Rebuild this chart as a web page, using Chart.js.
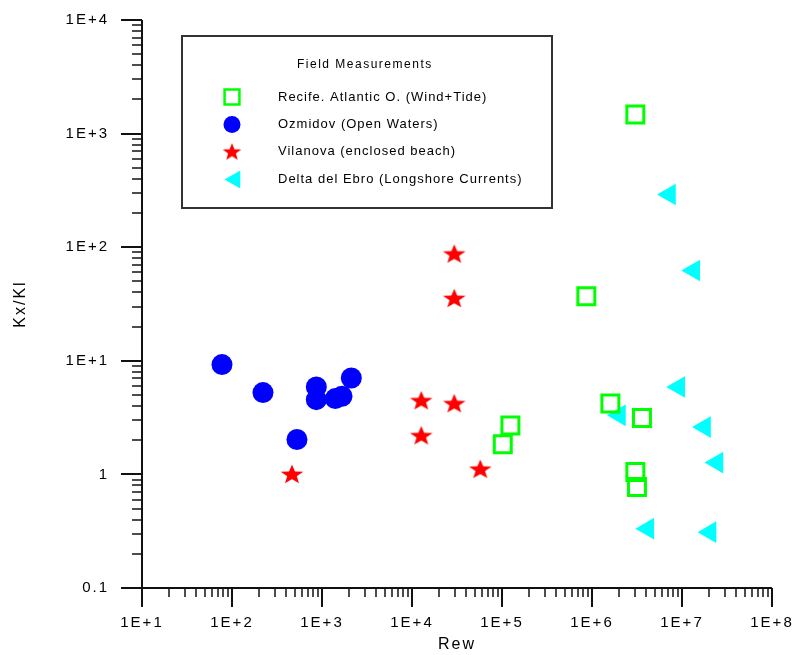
<!DOCTYPE html>
<html>
<head>
<meta charset="utf-8">
<title>Kx/Kl vs Rew - Field Measurements</title>
<script src="https://cdn.jsdelivr.net/npm/chart.js@4.4.0/dist/chart.umd.min.js"></script>
<style>
  html, body { margin: 0; padding: 0; background: #fff; }
  #wrap { width: 794px; height: 655px; }
</style>
</head>
<body>
<div id="wrap"><canvas id="chart" width="794" height="655"></canvas></div>
<script>
/* ---------- DATA ---------- */
const legendTitle = 'Field Measurements';
const seriesNames = [
  'Recife. Atlantic O. (Wind+Tide)',
  'Ozmidov (Open Waters)',
  'Vilanova (enclosed beach)',
  'Delta del Ebro (Longshore Currents)'
];

const recifeX = [3.03e6, 8.65e5, 1.6e6, 3.59e6, 3.03e6, 3.16e6, 1.24e5, 1.02e5];
const recifeY = [1475, 37.0, 4.2, 3.13, 1.05, 0.773, 2.7, 1.84];

const ozmidovX = [77.4, 221, 865, 865, 1406, 1668, 2118, 527];
const ozmidovY = [9.26, 5.25, 5.88, 4.55, 4.65, 4.87, 7.05, 2.03];

const vilanovaX = [464, 12680, 29500, 12680, 57400, 29500, 29500];
const vilanovaY = [1.01, 4.49, 4.23, 2.21, 1.12, 87.9, 35.7];

const ebroX = [7.26e6, 1.35e7, 9.2e6, 2.02e6, 1.78e7, 2.45e7, 4.17e6, 2.05e7];
const ebroY = [291, 62.3, 5.88, 3.31, 2.61, 1.27, 0.333, 0.310];

const xTickValues = [1e1, 1e2, 1e3, 1e4, 1e5, 1e6, 1e7, 1e8];
const xTickLabels = ['1E+1', '1E+2', '1E+3', '1E+4', '1E+5', '1E+6', '1E+7', '1E+8'];
const yTickValues = [0.1, 1, 10, 100, 1000, 10000];
const yTickLabels = ['0.1', '1', '1E+1', '1E+2', '1E+3', '1E+4'];

/* ---------- HELPERS ---------- */
const FONT = "'Liberation Sans', Arial, sans-serif";

function toPoints(xs, ys) {
  return xs.map((x, i) => ({ x: x, y: ys[i] }));
}

// filled five point star, a little wider than tall like the original
function makeStar(w, h, R, sx, color) {
  const c = document.createElement('canvas');
  c.width = w; c.height = h;
  const g = c.getContext('2d');
  const r = R * 0.42;
  g.translate(w / 2, h / 2 + R * 0.095);
  g.scale(sx, 1);
  g.beginPath();
  for (let i = 0; i < 10; i++) {
    const a = -Math.PI / 2 + i * Math.PI / 5;
    const rr = i % 2 ? r : R;
    g.lineTo(Math.cos(a) * rr, Math.sin(a) * rr);
  }
  g.closePath();
  g.fillStyle = color;
  g.fill();
  return c;
}

const starBig = makeStar(26, 22, 10.1, 1.18, '#ff0000');
const starSmall = makeStar(22, 20, 9.0, 1.08, '#ff0000');

const styles = [
  { color: '#00ff00', fill: 'rgba(0,0,0,0)', pointStyle: 'rect', radius: 12, border: 3, rotation: 0,
    legend: { pointStyle: 'rect', radius: 10.5, border: 2.5, rotation: 0 } },
  { color: '#0000ff', fill: '#0000ff', pointStyle: 'circle', radius: 10.5, border: 0, rotation: 0,
    legend: { pointStyle: 'circle', radius: 8.5, border: 0, rotation: 0 } },
  { color: '#ff0000', fill: '#ff0000', pointStyle: starBig, radius: 11, border: 0, rotation: 0,
    legend: { pointStyle: starSmall, radius: 9, border: 0, rotation: 0 } },
  { color: '#00ffff', fill: '#00ffff', pointStyle: 'triangle', radius: 12.5, border: 0, rotation: -90,
    legend: { pointStyle: 'triangle', radius: 10.5, border: 0, rotation: -90 } }
];

const seriesData = [
  toPoints(recifeX, recifeY),
  toPoints(ozmidovX, ozmidovY),
  toPoints(vilanovaX, vilanovaY),
  toPoints(ebroX, ebroY)
];

/* ---------- AXES PLUGIN (lines + major/minor ticks) ---------- */
const axesPlugin = {
  id: 'logAxes',
  beforeDraw(chart) {
    chart.ctx.letterSpacing = '2px';
  },
  afterDraw(chart) {
    const ctx = chart.ctx;
    const xs = chart.scales.x;
    const ys = chart.scales.y;
    const left = xs.left, bottom = ys.bottom;
    ctx.save();
    ctx.strokeStyle = '#111';

    ctx.lineWidth = 2;
    ctx.beginPath();
    ctx.moveTo(left, ys.top);
    ctx.lineTo(left, bottom);
    ctx.moveTo(left, bottom);
    ctx.lineTo(xs.right, bottom);
    ctx.stroke();

    // x ticks, pointing down
    const xmin = Math.log10(xs.min), xmax = Math.log10(xs.max);
    for (let d = xmin; d <= xmax; d++) {
      for (let k = 1; k <= 9; k++) {
        const v = k * Math.pow(10, d);
        if (v > xs.max * 1.0001) break;
        const px = Math.round(xs.getPixelForValue(v));
        ctx.lineWidth = k === 1 ? 2 : 1.5;
        ctx.beginPath();
        ctx.moveTo(px, bottom);
        ctx.lineTo(px, bottom + (k === 1 ? 19 : 9));
        ctx.stroke();
      }
    }
    // y ticks, pointing left
    const ymin = Math.round(Math.log10(ys.min)), ymax = Math.round(Math.log10(ys.max));
    for (let d = ymin; d <= ymax; d++) {
      for (let k = 1; k <= 9; k++) {
        const v = k * Math.pow(10, d);
        if (v > ys.max * 1.0001) break;
        const py = Math.round(ys.getPixelForValue(v));
        ctx.lineWidth = k === 1 ? 2 : 1.5;
        ctx.beginPath();
        ctx.moveTo(left, py);
        ctx.lineTo(left - (k === 1 ? 21 : 10), py);
        ctx.stroke();
      }
    }
    ctx.restore();
  }
};

/* ---------- LEGEND BOX PLUGIN ---------- */
const legendBoxPlugin = {
  id: 'legendBox',
  afterDraw(chart) {
    const ctx = chart.ctx;
    const box = { x: 182, y: 36, w: 370, h: 172 };
    ctx.save();
    ctx.strokeStyle = '#333';
    ctx.lineWidth = 2;
    ctx.strokeRect(box.x, box.y, box.w, box.h);

    ctx.fillStyle = '#000';
    ctx.textBaseline = 'middle';
    ctx.textAlign = 'left';
    ctx.font = '12px ' + FONT;
    ctx.letterSpacing = '1.5px';
    ctx.fillText(legendTitle, 297, 65);

    ctx.font = '13px ' + FONT;
    ctx.letterSpacing = '1px';
    const rowY = [97, 124.5, 151.5, 179.5];
    chart.data.datasets.forEach((ds, i) => {
      const st = styles[i];
      const mx = i === 3 ? 235 : 232;
      ctx.save();
      ctx.fillStyle = st.fill;
      ctx.strokeStyle = st.color;
      ctx.lineWidth = st.legend.border;
      Chart.helpers.drawPoint(ctx, {
        pointStyle: st.legend.pointStyle,
        radius: st.legend.radius,
        rotation: st.legend.rotation,
        borderWidth: st.legend.border
      }, mx, rowY[i]);
      ctx.restore();
      ctx.fillStyle = '#000';
      ctx.fillText(ds.label, 278, rowY[i]);
    });
    ctx.restore();
  }
};

/* ---------- CHART ---------- */
const datasets = seriesNames.map((name, i) => ({
  label: name,
  data: seriesData[i],
  backgroundColor: styles[i].fill,
  borderColor: styles[i].color,
  borderWidth: styles[i].border,
  pointStyle: styles[i].pointStyle,
  pointRadius: styles[i].radius,
  pointHoverRadius: styles[i].radius,
  pointRotation: styles[i].rotation,
  showLine: false
}));

new Chart(document.getElementById('chart'), {
  type: 'scatter',
  data: { datasets: datasets },
  options: {
    responsive: false,
    animation: false,
    events: [],
    layout: { padding: { top: 20, right: 22, left: 0, bottom: 0 } },
    plugins: {
      legend: { display: false },
      tooltip: { enabled: false }
    },
    scales: {
      x: {
        type: 'logarithmic',
        min: 1e1,
        max: 1e8,
        border: { display: false },
        grid: { display: false, drawTicks: false },
        afterBuildTicks: (axis) => { axis.ticks = xTickValues.map(v => ({ value: v })); },
        afterFit: (axis) => { axis.height = 67; axis.paddingLeft = 0; axis.paddingRight = 0; },
        ticks: {
          autoSkip: false,
          maxRotation: 0,
          minRotation: 0,
          padding: 26,
          color: '#000',
          font: { family: FONT, size: 15 },
          callback: (v, i) => xTickLabels[i]
        },
        title: {
          display: true,
          text: 'Rew',
          color: '#000',
          font: { family: FONT, size: 16 },
          padding: { top: 0, bottom: 1 }
        }
      },
      y: {
        type: 'logarithmic',
        min: 0.1,
        max: 1e4,
        border: { display: false },
        grid: { display: false, drawTicks: false },
        afterBuildTicks: (axis) => { axis.ticks = yTickValues.map(v => ({ value: v })); },
        afterFit: (axis) => { axis.width = 142; axis.paddingTop = 0; axis.paddingBottom = 0; },
        ticks: {
          autoSkip: false,
          padding: 33,
          color: '#000',
          font: { family: FONT, size: 15 },
          callback: (v, i) => yTickLabels[i]
        },
        title: {
          display: true,
          text: 'Kx/Kl',
          color: '#000',
          font: { family: FONT, size: 16 },
          padding: { top: 11, bottom: 0 }
        }
      }
    }
  },
  plugins: [axesPlugin, legendBoxPlugin]
});
</script>
</body>
</html>
